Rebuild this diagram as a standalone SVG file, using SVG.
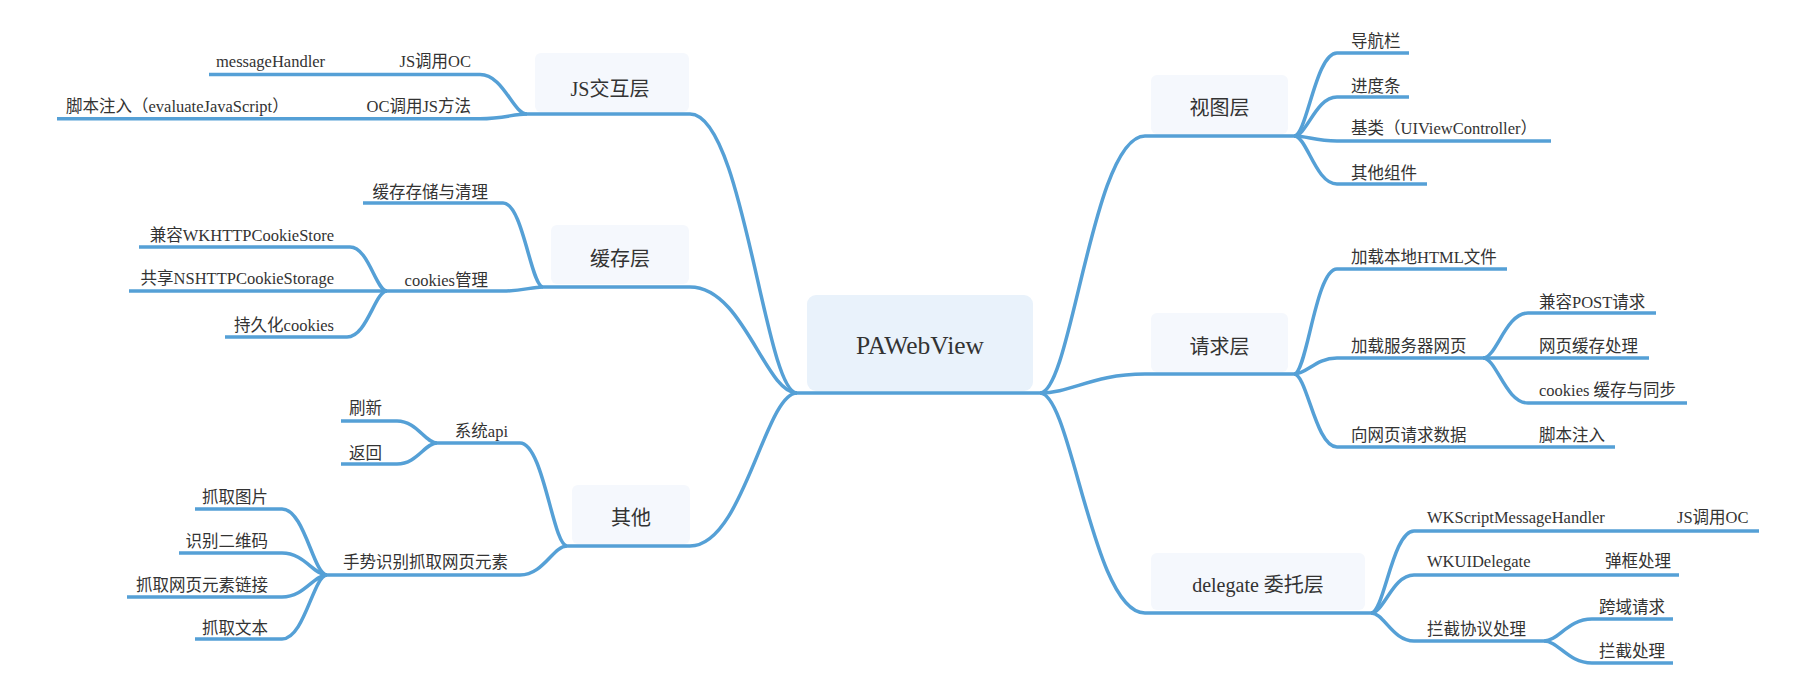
<svg xmlns="http://www.w3.org/2000/svg" width="1814" height="686" viewBox="0 0 1814 686">
<style>
.ln{fill:none;stroke:#55a0d6;stroke-width:3.5;stroke-linejoin:round}
text{font-family:"Liberation Serif","Noto Sans CJK SC",serif;fill:#333}
.t{font-size:16.5px}
.e{text-anchor:end}
.m{text-anchor:middle}
.l1{font-size:20px;text-anchor:middle}
.b1{fill:#f5f8fd}
.b0{fill:#e9f2fb}
</style>
<rect width="1814" height="686" fill="#ffffff"/>
<g id="connectors">
<path class="ln" d="M209,74.5 H480 C503.5,74.5 513,114 527,114"/>
<path class="ln" d="M57,118.7 H480 C503.5,118.7 513,114 527,114"/>
<path class="ln" d="M527,114 H690 C743.5,114 765,393 797,393"/>
<path class="ln" d="M363,203 H503 C523,203 531,287 543,287"/>
<path class="ln" d="M387,291 H503 C523,291 531,287 543,287"/>
<path class="ln" d="M139,247 H350 C368.5,247 376,291 387,291"/>
<path class="ln" d="M129,291 H387"/>
<path class="ln" d="M225,337 H347 C367,337 375,291 387,291"/>
<path class="ln" d="M543,287 H690 C743.5,287 765,393 797,393"/>
<path class="ln" d="M341,421 H397 C417,421 425,443 437,443"/>
<path class="ln" d="M341,464 H397 C417,464 425,443 437,443"/>
<path class="ln" d="M437,443 H520 C543.5,443 553,546 567,546"/>
<path class="ln" d="M327,575 H520 C543.5,575 553,546 567,546"/>
<path class="ln" d="M195,509 H282 C304.5,509 313.5,575 327,575"/>
<path class="ln" d="M179,553 H282 C304.5,553 313.5,575 327,575"/>
<path class="ln" d="M127,597 H282 C304.5,597 313.5,575 327,575"/>
<path class="ln" d="M195,639 H282 C304.5,639 313.5,575 327,575"/>
<path class="ln" d="M567,546 H690 C743.5,546 765,393 797,393"/>
<path class="ln" d="M797,393 H1040"/>
<path class="ln" d="M1040,393 C1071.5,393 1092.5,136 1145,136 H1294"/>
<path class="ln" d="M1040,393 C1071.5,393 1092.5,374 1145,374 H1294"/>
<path class="ln" d="M1040,393 C1071.5,393 1092.5,613 1145,613 H1371"/>
<path class="ln" d="M1294,136 C1307,136 1315.5,53 1337,53 H1409"/>
<path class="ln" d="M1294,136 C1307,136 1315.5,97 1337,97 H1409"/>
<path class="ln" d="M1294,136 C1307,136 1315.5,141 1337,141 H1551"/>
<path class="ln" d="M1294,136 C1307,136 1315.5,184 1337,184 H1427"/>
<path class="ln" d="M1294,374 C1307,374 1315.5,269 1337,269 H1507"/>
<path class="ln" d="M1294,374 C1307,374 1315.5,358 1337,358 H1483"/>
<path class="ln" d="M1294,374 C1307,374 1315.5,447 1337,447 H1615"/>
<path class="ln" d="M1483,358 C1496.5,358 1505.5,313 1528,313 H1656"/>
<path class="ln" d="M1483,358 H1649"/>
<path class="ln" d="M1483,358 C1496.5,358 1505.5,403 1528,403 H1687"/>
<path class="ln" d="M1371,613 C1384,613 1392.5,531 1414,531 H1759"/>
<path class="ln" d="M1371,613 C1384,613 1392.5,575 1414,575 H1679"/>
<path class="ln" d="M1371,613 C1384,613 1392.5,641 1414,641 H1544"/>
<path class="ln" d="M1544,641 C1558.4,641 1568,619 1592,619 H1673"/>
<path class="ln" d="M1544,641 C1558.4,641 1568,663 1592,663 H1673"/>
</g>
<g id="root">
<rect class="b0" x="807" y="295" width="226" height="96" rx="9"/>
<text x="920" y="354" font-size="25.5" text-anchor="middle">PAWebView</text>
</g>
<g id="js-layer">
<rect class="b1" x="535" y="53" width="154" height="59" rx="6"/>
<text class="l1" x="610" y="96">JS交互层</text>
</g>
<g id="js-call-oc"><text class="t e" x="471" y="67">JS调用OC</text></g>
<g id="message-handler"><text class="t" x="216" y="67">messageHandler</text></g>
<g id="oc-call-js"><text class="t e" x="471" y="112">OC调用JS方法</text></g>
<g id="script-inject-left"><text class="t" x="66" y="112">脚本注入（evaluateJavaScript）</text></g>
<g id="cache-layer">
<rect class="b1" x="551" y="225" width="138" height="59" rx="6"/>
<text class="l1" x="620" y="266">缓存层</text>
</g>
<g id="cache-storage"><text class="t e" x="488" y="198">缓存存储与清理</text></g>
<g id="cookies-mgmt"><text class="t e" x="488" y="286">cookies管理</text></g>
<g id="wk-cookie"><text class="t e" x="334" y="241">兼容WKHTTPCookieStore</text></g>
<g id="ns-cookie"><text class="t e" x="334" y="284">共享NSHTTPCookieStorage</text></g>
<g id="persist-cookie"><text class="t e" x="334" y="331">持久化cookies</text></g>
<g id="other">
<rect class="b1" x="572" y="485" width="118" height="59" rx="6"/>
<text class="l1" x="631" y="525">其他</text>
</g>
<g id="sys-api"><text class="t e" x="508" y="437">系统api</text></g>
<g id="refresh"><text class="t e" x="382" y="414">刷新</text></g>
<g id="back"><text class="t e" x="382" y="459">返回</text></g>
<g id="gesture"><text class="t e" x="508" y="568">手势识别抓取网页元素</text></g>
<g id="grab-img"><text class="t e" x="268" y="503">抓取图片</text></g>
<g id="qr"><text class="t e" x="268" y="547">识别二维码</text></g>
<g id="grab-link"><text class="t e" x="268" y="591">抓取网页元素链接</text></g>
<g id="grab-text"><text class="t e" x="268" y="634">抓取文本</text></g>
<g id="view-layer">
<rect class="b1" x="1151" y="75" width="137" height="59" rx="6"/>
<text class="l1" x="1219.5" y="115">视图层</text>
</g>
<g id="navbar"><text class="t" x="1351" y="47">导航栏</text></g>
<g id="progress"><text class="t" x="1351" y="92">进度条</text></g>
<g id="base-class"><text class="t" x="1351" y="134">基类（UIViewController）</text></g>
<g id="other-comp"><text class="t" x="1351" y="179">其他组件</text></g>
<g id="request-layer">
<rect class="b1" x="1151" y="313" width="137" height="59" rx="6"/>
<text class="l1" x="1219.5" y="354">请求层</text>
</g>
<g id="load-local"><text class="t" x="1351" y="263">加载本地HTML文件</text></g>
<g id="load-server"><text class="t" x="1351" y="352">加载服务器网页</text></g>
<g id="post"><text class="t" x="1539" y="308">兼容POST请求</text></g>
<g id="web-cache"><text class="t" x="1539" y="352">网页缓存处理</text></g>
<g id="cookie-sync"><text class="t" x="1539" y="396">cookies 缓存与同步</text></g>
<g id="request-data"><text class="t" x="1351" y="441">向网页请求数据</text></g>
<g id="script-inject-right"><text class="t" x="1539" y="441">脚本注入</text></g>
<g id="delegate-layer">
<rect class="b1" x="1151" y="553" width="214" height="57" rx="6"/>
<text class="l1" x="1258" y="592">delegate 委托层</text>
</g>
<g id="wk-script"><text class="t" x="1427" y="523">WKScriptMessageHandler</text></g>
<g id="js-call-oc-right"><text class="t" x="1677" y="523">JS调用OC</text></g>
<g id="wk-ui"><text class="t" x="1427" y="567">WKUIDelegate</text></g>
<g id="alert"><text class="t" x="1605" y="567">弹框处理</text></g>
<g id="intercept-protocol"><text class="t" x="1427" y="635">拦截协议处理</text></g>
<g id="cross-domain"><text class="t" x="1599" y="613">跨域请求</text></g>
<g id="intercept"><text class="t" x="1599" y="657">拦截处理</text></g>
</svg>
